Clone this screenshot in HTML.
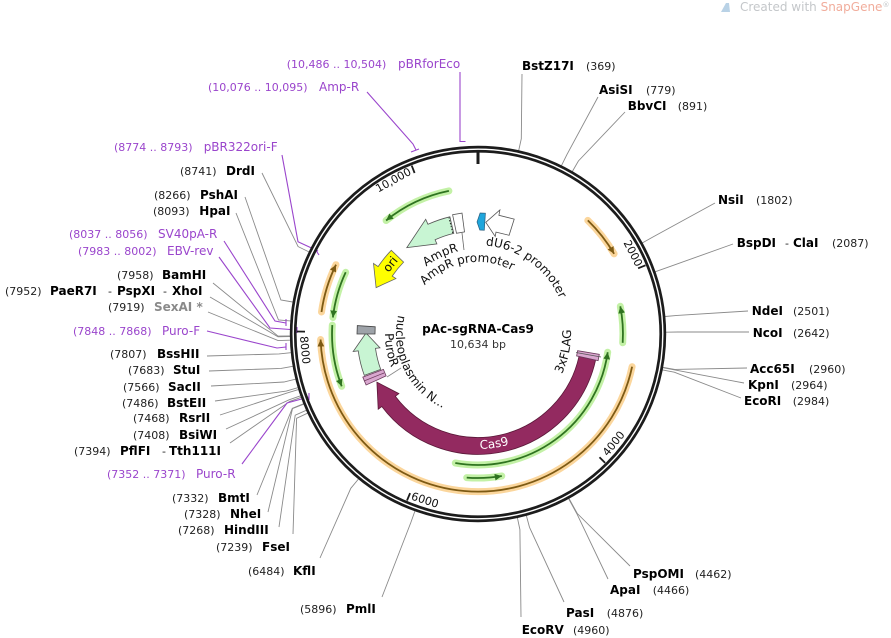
<!DOCTYPE html>
<html>
<head>
<meta charset="utf-8">
<style>
  html,body{margin:0;padding:0;background:#fff;}
  svg{display:block;}
  text{font-family:"DejaVu Sans","Liberation Sans",sans-serif;}
  .n{font-size:11px;fill:#222;}
  .b{font-size:12px;font-weight:bold;fill:#000;}
  .p{font-size:11px;fill:#9a45cc;}
  .pn{font-size:12px;fill:#9a45cc;}
  .d{font-size:11px;fill:#333;}
  .l{font-size:12px;fill:#111;}
  .tk{font-size:11px;fill:#111;}
  .rl{fill:none;stroke:#8a8a8a;stroke-width:0.9;}
  .pl{fill:none;stroke:#9a45cc;stroke-width:1.1;}
  .gg{fill:none;stroke:#c3f1a6;stroke-width:7;stroke-linecap:round;}
  .gl{fill:none;stroke:#2f7320;stroke-width:1.8;}
  .og{fill:none;stroke:#fbd69c;stroke-width:7;stroke-linecap:round;}
  .ol{fill:none;stroke:#7d5a14;stroke-width:1.8;}
</style>
</head>
<body>
<svg width="891" height="638" viewBox="0 0 891 638" xmlns="http://www.w3.org/2000/svg">
<defs>
  <marker id="ag" markerUnits="userSpaceOnUse" markerWidth="10" markerHeight="10" refX="7" refY="4" orient="auto"><path d="M0,0.6 L7,4 L0,7.4 z" fill="#2f7320"/></marker>
  <marker id="ao" markerUnits="userSpaceOnUse" markerWidth="10" markerHeight="10" refX="7" refY="4" orient="auto"><path d="M0,0.6 L7,4 L0,7.4 z" fill="#7d5a14"/></marker>
  <path id="tAmpR" d="M 404.4,291.5 A 85 85 0 0 1 507.1,254.1"/>
  <path id="tAmpRp" d="M 410.3,309.4 A 72 72 0 0 1 533.2,287.7"/>
  <path id="tdU6" d="M 447.6,250.4 A 89 89 0 0 1 565.6,349.5"/>
  <path id="tPuro" d="M 397.5,287.5 A 93 93 0 0 0 446.2,421.4"/>
  <path id="tNuc" d="M 425.3,271.2 A 82 82 0 0 0 506.0,411.1"/>
  <path id="tFlag" d="M 509.8,421.4 A 93 93 0 0 0 537.8,262.8"/>
  <path id="tCas" d="M 404.1,422.1 A 115 115 0 0 0 566.1,407.9"/>
</defs>

<rect width="891" height="638" fill="#fff"/>

<!-- header -->
<path d="M721,12 L726,3 L729,3 L730,12 Z" fill="#b9d2e6"/>
<text x="740" y="11" style="font-size:12px;fill:#c4c7ca;">Created with <tspan style="fill:#f1ad9c;">SnapGene</tspan><tspan style="font-size:7px;" dy="-4">®</tspan></text>

<!-- restriction site lines -->
<g>
<polyline class="rl" points="518.7,150.5 521.3,138.7 522,74"/>
<polyline class="rl" points="561.5,165.6 566.8,154.8 598,97"/>
<polyline class="rl" points="572.4,171.4 578.4,161 625,112"/>
<polyline class="rl" points="642.4,242.9 652.9,237 715,203"/>
<polyline class="rl" points="655.4,271.7 666.7,267.7 733,244"/>
<polyline class="rl" points="665.2,316.5 677.1,315.4 748,311"/>
<polyline class="rl" points="666,332.2 678,332 749,332"/>
<polyline class="rl" points="663,367.3 674.8,369.4 747,368"/>
<polyline class="rl" points="663,367.7 674.8,369.9 744,383"/>
<polyline class="rl" points="662.5,369.9 674.3,372.2 741,398"/>
<polyline class="rl" points="569,498.5 577.2,513.4 630,566"/>
<polyline class="rl" points="568.6,498.7 576.8,513.6 608,579"/>
<polyline class="rl" points="526.4,515.7 529.5,527.3 564,602"/>
<polyline class="rl" points="517.4,517.8 519.9,529.6 521,617"/>
<polyline class="rl" points="414.9,511.1 410.9,522.4 382,597"/>
<polyline class="rl" points="358.4,479.1 350.8,488.3 320,558"/>
<polyline class="rl" points="307.5,413.2 296.6,418.3 293,534"/>
<polyline class="rl" points="306.2,410.3 295.2,415.2 279,527"/>
<polyline class="rl" points="303.6,404.2 292.5,408.6 268,512"/>
<polyline class="rl" points="303.4,403.8 292.3,408.3 257,495"/>
<polyline class="rl" points="301,397.4 289.7,401.4 230,443"/>
<polyline class="rl" points="300.5,395.8 289.1,399.8 226,429"/>
<polyline class="rl" points="298.4,389.6 286.9,393.1 220,415"/>
<polyline class="rl" points="297.8,387.7 286.3,391.1 215,401"/>
<polyline class="rl" points="295.5,379.2 283.9,382 211,386"/>
<polyline class="rl" points="292.8,366.3 281,368.4 209,371"/>
<polyline class="rl" points="290.9,352.7 279,353.9 207,356"/>
<polyline class="rl" points="290.1,340.2 278.1,340.6 208,312"/>
<polyline class="rl" points="290,336.6 278,336.8 210,297"/>
<polyline class="rl" points="290,336 278,336.1 213,283"/>
<polyline class="rl" points="290.5,320.9 278.5,320 236,213"/>
<polyline class="rl" points="292.7,302 280.9,300 245,197"/>
<polyline class="rl" points="308.9,251.9 298.1,246.6 262,173"/>
</g>

<!-- primer lines -->
<g>
<polyline class="pl" points="460,72 460,141.5 465.5,141.5"/>
<polyline class="pl" points="367,92 413,144 416,150"/>
<line class="pl" x1="411" y1="152" x2="419" y2="149"/>
<polyline class="pl" points="282,155 298,241.7 318,251"/>
<line class="pl" x1="315" y1="249" x2="319" y2="255"/>
<polyline class="pl" points="224,241 275,321 286,323"/>
<line class="pl" x1="286" y1="319" x2="286" y2="326"/>
<polyline class="pl" points="219,257 270,328 297,330"/>
<line class="pl" x1="297" y1="327" x2="297" y2="333"/>
<polyline class="pl" points="207,331 277,348 286,347"/>
<line class="pl" x1="286" y1="343" x2="286" y2="350"/>
<polyline class="pl" points="242,464 287,403 309,397"/>
<line class="pl" x1="309" y1="393" x2="309" y2="400"/>
</g>

<!-- backbone -->
<circle cx="478" cy="334" r="184.8" fill="none" stroke="#1c1c1c" stroke-width="6.8"/>
<circle cx="478" cy="334" r="184.8" fill="none" stroke="#fff" stroke-width="1.4"/>

<!-- ticks -->
<line x1="478" y1="150" x2="478" y2="164" stroke="#1c1c1c" stroke-width="3"/>
<g stroke="#1c1c1c" stroke-width="1.8">
<line x1="645.5" y1="265.3" x2="638.1" y2="268.3"/>
<line x1="605.1" y1="462.9" x2="599.5" y2="457.2"/>
<line x1="407" y1="500.5" x2="410.1" y2="493.1"/>
<line x1="297" y1="331.5" x2="305" y2="331.6"/>
<line x1="411.7" y1="165.6" x2="414.6" y2="173"/>
</g>
<text class="tk" x="629.7" y="255" text-anchor="middle" transform="rotate(62.5 629.7 255)">2000</text>
<text class="tk" x="616.5" y="445.8" text-anchor="middle" transform="rotate(-51.1 616.5 445.8)">4000</text>
<text class="tk" x="423.9" y="503.6" text-anchor="middle" transform="rotate(17.7 423.9 503.6)">6000</text>
<text class="tk" x="301.3" y="350.4" text-anchor="middle" transform="rotate(84.7 301.3 350.4)">8000</text>
<text class="tk" x="395.1" y="183.3" text-anchor="middle" transform="rotate(-28.8 395.1 183.3)">10,000</text>

<!-- ORF arcs: glow -->
<g>
<path class="gg" d="M 448.9,190.9 A 146 146 0 0 0 386.1,220.5"/>
<path class="og" d="M 587.8,220.4 A 158 158 0 0 1 614.1,253.8"/>
<path class="gg" d="M 622.7,342.8 A 145 145 0 0 0 620.3,306.3"/>
<path class="gg" d="M 455.3,463 A 131 131 0 0 0 607.7,352.2"/>
<path class="gg" d="M 466.7,477.6 A 144 144 0 0 0 501.8,476"/>
<path class="og" d="M 632.1,366.7 A 157.5 157.5 0 0 1 320.6,339.5"/>
<path class="og" d="M 321.5,312 A 158 158 0 0 1 336,264.7"/>
<path class="gg" d="M 345.7,272.3 A 146 146 0 0 0 332.9,317.5"/>
<path class="gg" d="M 332.3,325.1 A 146 146 0 0 0 341.7,386.3"/>
</g>
<!-- ORF arcs: lines -->
<g>
<path class="gl" marker-end="url(#ag)" d="M 448.9,190.9 A 146 146 0 0 0 386.1,220.5"/>
<path class="ol" marker-end="url(#ao)" d="M 587.8,220.4 A 158 158 0 0 1 614.1,253.8"/>
<path class="gl" marker-end="url(#ag)" d="M 622.7,342.8 A 145 145 0 0 0 620.3,306.3"/>
<path class="gl" marker-end="url(#ag)" d="M 455.3,463 A 131 131 0 0 0 607.7,352.2"/>
<path class="gl" marker-end="url(#ag)" d="M 466.7,477.6 A 144 144 0 0 0 501.8,476"/>
<path class="ol" marker-end="url(#ao)" d="M 632.1,366.7 A 157.5 157.5 0 0 1 320.6,339.5"/>
<path class="ol" marker-end="url(#ao)" d="M 321.5,312 A 158 158 0 0 1 336,264.7"/>
<path class="gl" marker-end="url(#ag)" d="M 345.7,272.3 A 146 146 0 0 0 332.9,317.5"/>
<path class="gl" marker-end="url(#ag)" d="M 332.3,325.1 A 146 146 0 0 0 341.7,386.3"/>
</g>

<!-- features -->
<path d="M 595.6,360.1 A 120.5 120.5 0 0 1 381.8,406.5 L 378.2,409.2 L 376.9,382.2 L 398.9,393.6 L 395.3,396.3 A 103.5 103.5 0 0 0 579,356.4 Z" fill="#932a60" stroke="#5a1838" stroke-width="0.8"/>
<path d="M 577.6,350.7 L 599.3,354.3 L 598.1,360.6 L 576.6,355.9 Z" fill="#d9a7cf" stroke="#6b3a5c" stroke-width="0.8"/>
<line x1="576" y1="352.5" x2="601" y2="357" stroke="#555" stroke-width="0.8"/>
<path d="M 386.1,375.9 L 366.1,385 L 362.8,377.1 L 383.4,369.4 Z" fill="#d9a7cf" stroke="#6b3a5c" stroke-width="0.8"/>
<line x1="384" y1="373" x2="364" y2="381" stroke="#6b3a5c" stroke-width="0.7"/>
<path d="M 380.7,369.4 A 103.5 103.5 0 0 1 375.5,348.4 L 380,347.8 L 366,333 L 353.2,351.5 L 358.2,350.8 A 121 121 0 0 0 364.3,375.4 Z" fill="#c8f5d3" stroke="#555" stroke-width="0.8"/>
<path d="M 375,334 L 357,334 L 357.3,325.6 L 375.2,326.8 Z" fill="#9ea3a9" stroke="#444" stroke-width="0.8"/>
<path d="M 449.9,216.8 A 120.5 120.5 0 0 0 428,224.3 L 425.7,219.3 L 406.8,247.6 L 436.9,243.9 L 435.1,239.8 A 103.5 103.5 0 0 1 453.8,233.4 Z" fill="#c8f5d3" stroke="#555" stroke-width="0.8"/>
<line x1="452.8" y1="233.1" x2="449" y2="217.6" stroke="#222" stroke-width="1" stroke-dasharray="1.5,1.5"/>
<path d="M 456.5,233.3 L 452.6,214.7 L 462,213.1 L 464.5,231.9 Z" fill="#fff" stroke="#555" stroke-width="0.8"/>
<line x1="462" y1="233" x2="464" y2="250" stroke="#666" stroke-width="0.8"/>
<path d="M 514.2,219.1 L 498.9,215.3 L 499.9,209.9 L 485.8,222.3 L 495.2,236.5 L 496,232.1 L 509.1,235.3 Z" fill="#fff" stroke="#555" stroke-width="0.8"/>
<path d="M 485.4,213.2 L 484.3,230.2 L 479.8,230 L 477,222 L 480.1,213 Z" fill="#1fa6dc" stroke="#2a5f80" stroke-width="0.7"/>
<path d="M 391.3,250.3 A 120.5 120.5 0 0 0 378.1,266.6 L 373.5,263.5 L 376.1,287.6 L 395.9,278.6 L 392.2,276.1 A 103.5 103.5 0 0 1 403.6,262.1 Z" fill="#ffff00" stroke="#666" stroke-width="0.8"/>
<text class="l" x="393.5" y="266.8" text-anchor="middle" transform="rotate(-51.5 393.5 266.8)">ori</text>
<line x1="387" y1="377" x2="401" y2="368" stroke="#888" stroke-width="0.8"/>

<!-- curved feature labels -->
<text class="l"><textPath href="#tAmpR" startOffset="51.3" text-anchor="middle">AmpR</textPath></text>
<text class="l"><textPath href="#tAmpRp" startOffset="75.8" text-anchor="middle">AmpR promoter</textPath></text>
<text class="l"><textPath href="#tdU6" startOffset="86.5" text-anchor="middle">dU6-2 promoter</textPath></text>
<text class="l"><textPath href="#tPuro" startOffset="65.4" text-anchor="middle">PuroR</textPath></text>
<text class="l"><textPath href="#tNuc" startOffset="108.1" text-anchor="middle">nucleoplasmin N...</textPath></text>
<text class="l"><textPath href="#tFlag" startOffset="95" text-anchor="middle">3xFLAG</textPath></text>
<text class="l" style="fill:#fff;"><textPath href="#tCas" startOffset="96.9" text-anchor="middle">Cas9</textPath></text>

<!-- center -->
<text class="b" x="478" y="333" text-anchor="middle">pAc-sgRNA-Cas9</text>
<text class="d" x="478" y="348" text-anchor="middle">10,634 bp</text>

<!-- right labels -->
<text class="b" x="522" y="70">BstZ17I</text><text class="n" x="586" y="70">(369)</text>
<text class="b" x="599" y="94">AsiSI</text><text class="n" x="646" y="94">(779)</text>
<text class="b" x="627.7" y="110">BbvCI</text><text class="n" x="677.7" y="110">(891)</text>
<text class="b" x="718" y="204">NsiI</text><text class="n" x="756" y="204">(1802)</text>
<text class="b" x="736.7" y="247">BspDI</text><text class="n" x="785" y="247">-</text><text class="b" x="793" y="247">ClaI</text><text class="n" x="832" y="247">(2087)</text>
<text class="b" x="751.7" y="315">NdeI</text><text class="n" x="793" y="315">(2501)</text>
<text class="b" x="752.7" y="337">NcoI</text><text class="n" x="793" y="337">(2642)</text>
<text class="b" x="750" y="373">Acc65I</text><text class="n" x="809" y="373">(2960)</text>
<text class="b" x="748" y="389">KpnI</text><text class="n" x="791" y="389">(2964)</text>
<text class="b" x="744" y="405">EcoRI</text><text class="n" x="792.7" y="405">(2984)</text>
<text class="b" x="633" y="578">PspOMI</text><text class="n" x="695" y="578">(4462)</text>
<text class="b" x="610" y="594">ApaI</text><text class="n" x="652.7" y="594">(4466)</text>
<text class="b" x="566" y="617">PasI</text><text class="n" x="606.7" y="617">(4876)</text>
<text class="b" x="521.7" y="634">EcoRV</text><text class="n" x="573" y="634">(4960)</text>

<!-- left labels -->
<text class="n" x="180" y="175">(8741)</text><text class="b" x="226" y="175">DrdI</text>
<text class="n" x="154" y="199">(8266)</text><text class="b" x="200" y="199">PshAI</text>
<text class="n" x="153" y="215">(8093)</text><text class="b" x="199.3" y="215">HpaI</text>
<text class="n" x="117" y="279">(7958)</text><text class="b" x="162" y="279">BamHI</text>
<text class="n" x="5" y="295">(7952)</text><text class="b" x="50" y="295">PaeR7I</text><text class="n" x="108" y="295">-</text><text class="b" x="117" y="295">PspXI</text><text class="n" x="163" y="295">-</text><text class="b" x="172" y="295">XhoI</text>
<text class="n" x="108" y="311">(7919)</text><text class="b" x="154" y="311" style="fill:#8a8a8a;">SexAI *</text>
<text class="n" x="110" y="358">(7807)</text><text class="b" x="157" y="358">BssHII</text>
<text class="n" x="128" y="374">(7683)</text><text class="b" x="173" y="374">StuI</text>
<text class="n" x="123" y="391">(7566)</text><text class="b" x="168" y="391">SacII</text>
<text class="n" x="122" y="407">(7486)</text><text class="b" x="167" y="407">BstEII</text>
<text class="n" x="133" y="422">(7468)</text><text class="b" x="179" y="422">RsrII</text>
<text class="n" x="133" y="439">(7408)</text><text class="b" x="179" y="439">BsiWI</text>
<text class="n" x="74" y="455">(7394)</text><text class="b" x="120" y="455">PflFI</text><text class="n" x="162" y="455">-</text><text class="b" x="169" y="455">Tth111I</text>
<text class="n" x="172" y="502">(7332)</text><text class="b" x="218" y="502">BmtI</text>
<text class="n" x="184" y="518">(7328)</text><text class="b" x="230" y="518">NheI</text>
<text class="n" x="178" y="534">(7268)</text><text class="b" x="224" y="534">HindIII</text>
<text class="n" x="216" y="551">(7239)</text><text class="b" x="262" y="551">FseI</text>
<text class="n" x="248" y="575">(6484)</text><text class="b" x="293" y="575">KflI</text>
<text class="n" x="300" y="613">(5896)</text><text class="b" x="346" y="613">PmlI</text>

<!-- primer labels -->
<text class="p" x="286.7" y="68">(10,486 .. 10,504)</text><text class="pn" x="398" y="68">pBRforEco</text>
<text class="p" x="208" y="91">(10,076 .. 10,095)</text><text class="pn" x="319" y="91">Amp-R</text>
<text class="p" x="114" y="151">(8774 .. 8793)</text><text class="pn" x="203.7" y="151">pBR322ori-F</text>
<text class="p" x="69" y="238">(8037 .. 8056)</text><text class="pn" x="158" y="238">SV40pA-R</text>
<text class="p" x="78" y="255">(7983 .. 8002)</text><text class="pn" x="167" y="255">EBV-rev</text>
<text class="p" x="73" y="335">(7848 .. 7868)</text><text class="pn" x="162" y="335">Puro-F</text>
<text class="p" x="107" y="478">(7352 .. 7371)</text><text class="pn" x="196" y="478">Puro-R</text>
</svg>
</body>
</html>
